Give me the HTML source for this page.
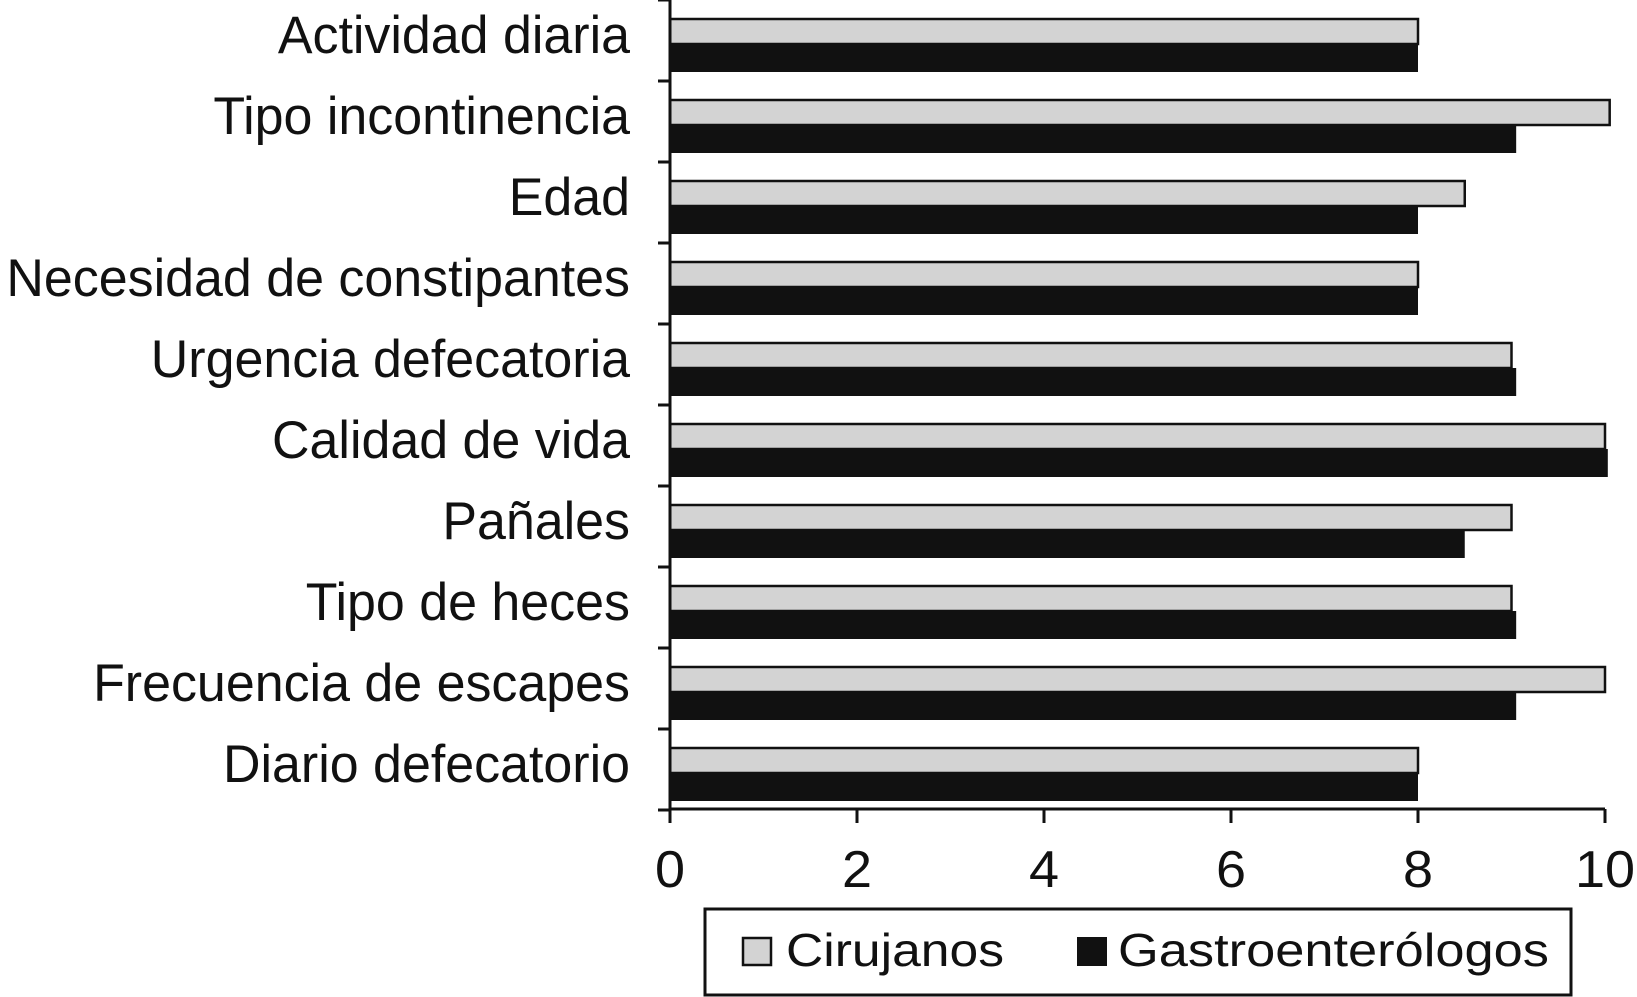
<!DOCTYPE html>
<html><head><meta charset="utf-8"><style>
html,body{margin:0;padding:0;background:#fff;}
svg{display:block;font-family:"Liberation Sans",Arial,sans-serif;}
</style></head><body>
<svg id="chart" width="1637" height="997" viewBox="0 0 1637 997" xmlns="http://www.w3.org/2000/svg"></svg>
<script>
const categories = ["Actividad diaria","Tipo incontinencia","Edad","Necesidad de constipantes","Urgencia defecatoria","Calidad de vida","Pañales","Tipo de heces","Frecuencia de escapes","Diario defecatorio"];
const cirujanos = [8, 10.05, 8.5, 8, 9, 10, 9, 9, 10, 8];
const gastro = [8, 9.05, 8, 8, 9.05, 10.03, 8.5, 9.05, 9.05, 8];
const xTicks = [0, 2, 4, 6, 8, 10];
const seriesNames = ["Cirujanos", "Gastroenterólogos"];

const NS = "http://www.w3.org/2000/svg";
const svg = document.getElementById("chart");
const X0 = 670, X1 = 1605, YTOP = -1, YBOT = 809;
const band = (YBOT - YTOP) / categories.length;
const x = v => X0 + (v - 0) / (10 - 0) * (X1 - X0);
const yc = i => YTOP + i * band;
function mk(tag, attrs, parent) {
  const e = document.createElementNS(NS, tag);
  for (const k in attrs) e.setAttribute(k, attrs[k]);
  (parent || svg).appendChild(e);
  return e;
}
categories.forEach((c, i) => {
  const y0 = yc(i);
  const g = mk("rect", {x: X0, y: y0 + 20, width: x(cirujanos[i]) - X0, height: 25, fill: "#d3d3d3", stroke: "#111", "stroke-width": 2.5});
  
  
  const b = mk("rect", {x: X0, y: y0 + 45, width: x(gastro[i]) - X0, height: 28, fill: "#111"});
  
  
  const t = mk("text", {transform: `translate(630,${y0 + 54}) scale(1.06,1.08)`, "text-anchor": "end", "font-size": 49, fill: "#111"});
  t.textContent = c;
  
  
});
const ya = mk("line", {x1: X0, y1: 0, x2: X0, y2: YBOT, stroke: "#111", "stroke-width": 3});


for (let i = 0; i <= categories.length; i++) {
  const tk = mk("line", {x1: X0 - 12, y1: yc(i) + 1, x2: X0, y2: yc(i) + 1, stroke: "#111", "stroke-width": 3});
  
  
}
const xa = mk("line", {x1: X0, y1: YBOT, x2: X1, y2: YBOT, stroke: "#111", "stroke-width": 3});


xTicks.forEach(v => {
  const tk = mk("line", {x1: x(v), y1: YBOT, x2: x(v), y2: YBOT + 14, stroke: "#111", "stroke-width": 3});
  
  
  const t = mk("text", {transform: `translate(${x(v)},887) scale(1.08,1.03)`, "text-anchor": "middle", "font-size": 50, fill: "#111"});
  t.textContent = v;
  
  
});
const lg = mk("rect", {x: 705, y: 909, width: 866, height: 86, fill: "#fff", stroke: "#111", "stroke-width": 3});


const s1 = mk("rect", {x: 743, y: 938, width: 28, height: 27, fill: "#d3d3d3", stroke: "#111", "stroke-width": 2.5});


const t1 = mk("text", {x: 786, y: 966, "font-size": 46, textLength: 218, lengthAdjust: "spacingAndGlyphs", fill: "#111"});
t1.textContent = seriesNames[0];


const s2 = mk("rect", {x: 1077, y: 937, width: 30, height: 29, fill: "#111"});


const t2 = mk("text", {x: 1118, y: 966, "font-size": 46, textLength: 431, lengthAdjust: "spacingAndGlyphs", fill: "#111"});
t2.textContent = seriesNames[1];


</script>
</body></html>
